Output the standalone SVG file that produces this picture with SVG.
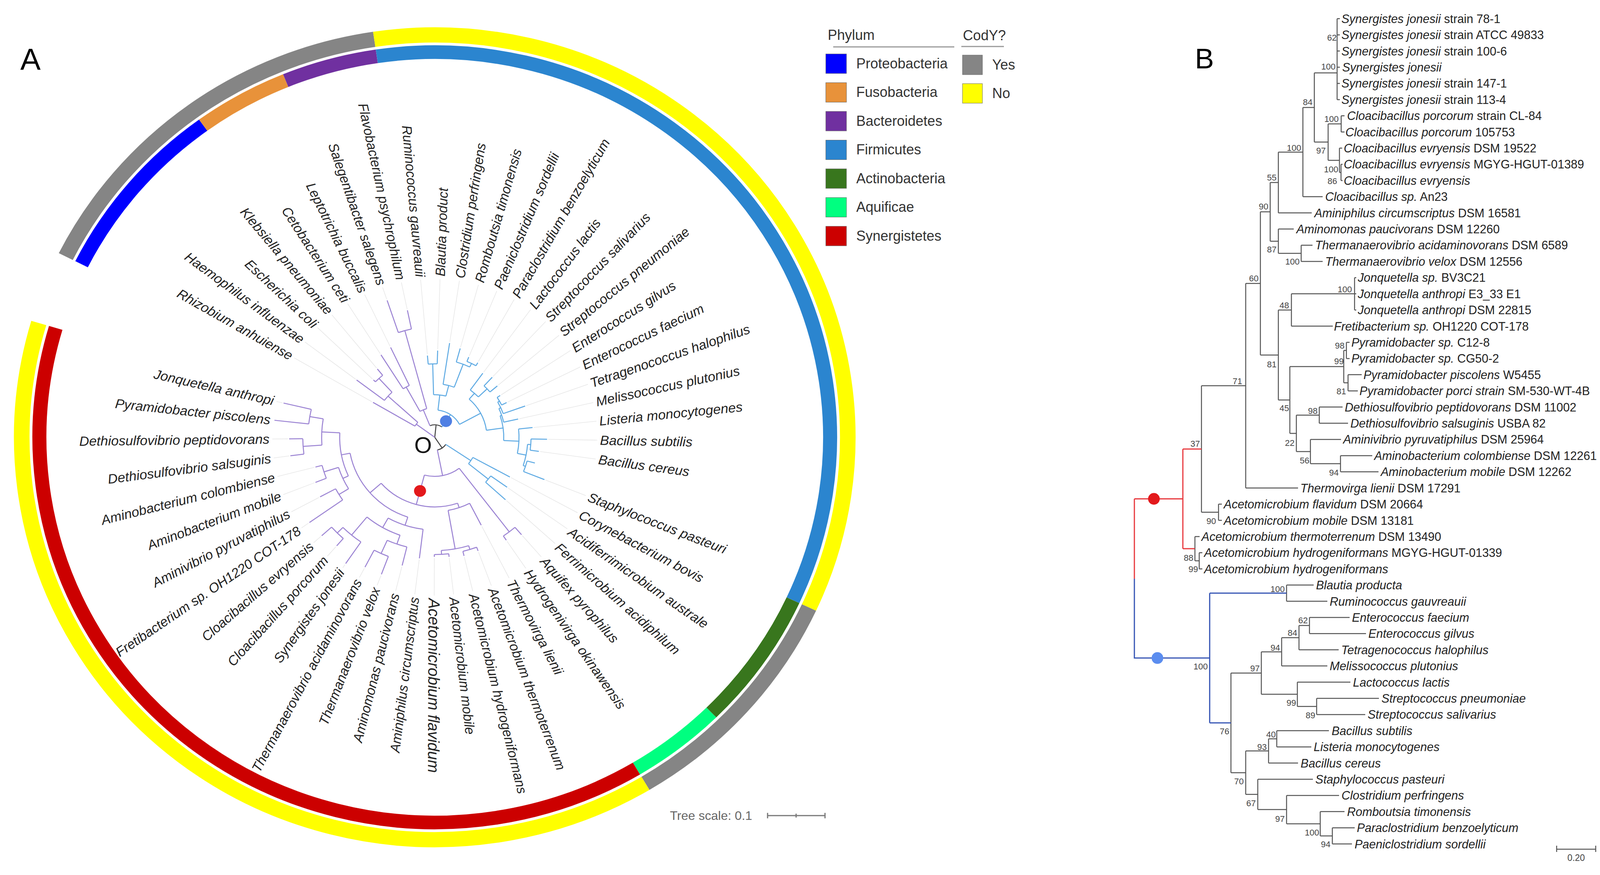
<svg xmlns="http://www.w3.org/2000/svg" width="4213" height="2239" viewBox="0 0 4213 2239">
<style>
text{font-family:"Liberation Sans",Arial,sans-serif}
.lbl{font-style:italic;font-size:34px;fill:#222}
.f{text-anchor:end}
.tr line,.tr circle{fill:none;stroke-width:2.5}
.p{stroke:#9b83d3}
.bu{stroke:#5eaae3}
.k{stroke:#444}
.ext line{stroke:#e3e3e3;stroke-width:1.3}
.ring circle{fill:none}
.lg{font-size:36px;fill:#333}
.bt{font-size:30.5px;fill:#222}
.bs{font-size:22px;fill:#444;text-anchor:end}
.it{font-style:italic}
</style>
<rect width="4213" height="2239" fill="#fff"/>
<text x="52" y="179" font-size="78" fill="#000">A</text>
<text x="3059" y="175" font-size="73" fill="#000">B</text>

<g id="panelA" transform="translate(1113 1119) scale(1.027 1)">
<g id="ring-phylum" class="ring" stroke-width="35">
<circle r="985.5" pathLength="360" stroke-dasharray="27.44 360" transform="rotate(206.7)" stroke="#0000ff"/>
<circle r="985.5" pathLength="360" stroke-dasharray="13.71 360" transform="rotate(234.14)" stroke="#e8923a"/>
<circle r="985.5" pathLength="360" stroke-dasharray="13.72 360" transform="rotate(247.85)" stroke="#7030a0"/>
<circle r="985.5" pathLength="360" stroke-dasharray="123.46 360" transform="rotate(261.57)" stroke="#2b85cf"/>
<circle r="985.5" pathLength="360" stroke-dasharray="20.58 360" transform="rotate(25.03)" stroke="#38761d"/>
<circle r="985.5" pathLength="360" stroke-dasharray="13.72 360" transform="rotate(45.61)" stroke="#00ff80"/>
<circle r="985.5" pathLength="360" stroke-dasharray="137.18 360" transform="rotate(59.33)" stroke="#cc0000"/>
</g>
<g id="ring-cody" class="ring" stroke-width="39">
<circle r="1029.5" pathLength="360" stroke-dasharray="54.87 360" transform="rotate(206.7)" stroke="#858585"/>
<circle r="1029.5" pathLength="360" stroke-dasharray="123.46 360" transform="rotate(261.57)" stroke="#ffff00"/>
<circle r="1029.5" pathLength="360" stroke-dasharray="34.3 360" transform="rotate(25.03)" stroke="#858585"/>
<circle r="1029.5" pathLength="360" stroke-dasharray="137.18 360" transform="rotate(59.33)" stroke="#ffff00"/>
</g>

<g id="connectors" class="tr">
<g class="ext">
<line x1="181" x2="405" transform="rotate(210.13)"/><line x1="247" x2="405" transform="rotate(216.99)"/><line x1="215" x2="405" transform="rotate(223.85)"/><line x1="229" x2="405" transform="rotate(230.71)"/><line x1="253" x2="405" transform="rotate(237.57)"/><line x1="258" x2="405" transform="rotate(244.43)"/><line x1="373" x2="405" transform="rotate(251.28)"/><line x1="335" x2="405" transform="rotate(258.14)"/><line x1="213" x2="405" transform="rotate(265)"/><line x1="225" x2="405" transform="rotate(271.86)"/><line x1="247" x2="405" transform="rotate(278.72)"/><line x1="239" x2="405" transform="rotate(285.58)"/><line x1="225" x2="405" transform="rotate(292.44)"/><line x1="222" x2="405" transform="rotate(299.3)"/><line x1="206" x2="405" transform="rotate(306.16)"/><line x1="213" x2="405" transform="rotate(313.02)"/><line x1="207" x2="405" transform="rotate(319.87)"/><line x1="198" x2="405" transform="rotate(326.73)"/><line x1="203" x2="405" transform="rotate(333.59)"/><line x1="242" x2="405" transform="rotate(340.45)"/><line x1="216" x2="405" transform="rotate(347.31)"/><line x1="248" x2="405" transform="rotate(354.17)"/><line x1="283" x2="405" transform="rotate(1.03)"/><line x1="265" x2="405" transform="rotate(7.89)"/><line x1="297" x2="405" transform="rotate(21.61)"/><line x1="216" x2="405" transform="rotate(28.47)"/><line x1="224" x2="405" transform="rotate(35.33)"/><line x1="241" x2="405" transform="rotate(42.19)"/><line x1="333" x2="405" transform="rotate(49.05)"/><line x1="321" x2="405" transform="rotate(55.9)"/><line x1="256" x2="405" transform="rotate(62.76)"/><line x1="313" x2="405" transform="rotate(69.62)"/><line x1="315" x2="405" transform="rotate(76.48)"/><line x1="311" x2="405" transform="rotate(83.34)"/><line x1="309" x2="405" transform="rotate(90.2)"/><line x1="315" x2="405" transform="rotate(97.06)"/><line x1="341" x2="405" transform="rotate(103.92)"/><line x1="378" x2="405" transform="rotate(110.78)"/><line x1="378" x2="405" transform="rotate(117.64)"/><line x1="395" x2="405" transform="rotate(124.5)"/><line x1="373" x2="405" transform="rotate(131.36)"/><line x1="381" x2="405" transform="rotate(138.22)"/><line x1="384" x2="405" transform="rotate(145.08)"/><line x1="327" x2="405" transform="rotate(151.93)"/><line x1="322" x2="405" transform="rotate(158.79)"/><line x1="310" x2="405" transform="rotate(165.65)"/><line x1="366" x2="405" transform="rotate(172.51)"/><line x1="366" x2="405" transform="rotate(179.37)"/><line x1="390" x2="405" transform="rotate(193.09)"/>
</g>
<g class="k">
<line x1="0" x2="32" transform="rotate(275.99)"/>
<circle r="32" pathLength="360" stroke-dasharray="56.27 360" transform="rotate(247.855)"/>
<line x1="0" x2="33" transform="rotate(56.17)"/>
<circle r="33" pathLength="360" stroke-dasharray="45.12 360" transform="rotate(33.615)"/>
</g>
<g class="p">
<line x1="0" x2="57" transform="rotate(216.13)"/>
<circle r="57" pathLength="360" stroke-dasharray="12.005 360" transform="rotate(210.13)"/>
<line x1="57" x2="178" transform="rotate(210.13)"/>
<line x1="57" x2="157" transform="rotate(222.135)"/>
<circle r="157" pathLength="360" stroke-dasharray="10.29 360" transform="rotate(216.99)"/>
<line x1="157" x2="244" transform="rotate(216.99)"/>
<line x1="157" x2="205" transform="rotate(227.28)"/>
<circle r="205" pathLength="360" stroke-dasharray="6.86 360" transform="rotate(223.85)"/>
<line x1="205" x2="212" transform="rotate(223.85)"/>
<line x1="205" x2="226" transform="rotate(230.71)"/>
<line x1="32" x2="76" transform="rotate(247.855)"/>
<circle r="76" pathLength="360" stroke-dasharray="13.71 360" transform="rotate(241)"/>
<line x1="76" x2="147" transform="rotate(241)"/>
<circle r="147" pathLength="360" stroke-dasharray="6.86 360" transform="rotate(237.57)"/>
<line x1="147" x2="250" transform="rotate(237.57)"/>
<line x1="147" x2="255" transform="rotate(244.43)"/>
<line x1="76" x2="283" transform="rotate(254.71)"/>
<circle r="283" pathLength="360" stroke-dasharray="6.86 360" transform="rotate(251.28)"/>
<line x1="283" x2="370" transform="rotate(251.28)"/>
<line x1="283" x2="332" transform="rotate(258.14)"/>
<line x1="33" x2="100" transform="rotate(78.73)"/>
<circle r="100" pathLength="360" stroke-dasharray="52.515 360" transform="rotate(52.475)"/>
<line x1="100" x2="305" transform="rotate(52.475)"/>
<circle r="305" pathLength="360" stroke-dasharray="6.85 360" transform="rotate(49.05)"/>
<line x1="305" x2="330" transform="rotate(49.05)"/>
<line x1="305" x2="318" transform="rotate(55.9)"/>
<line x1="100" x2="178" transform="rotate(104.99)"/>
<circle r="178" pathLength="360" stroke-dasharray="67.31 360" transform="rotate(71.335)"/>
<line x1="178" x2="190" transform="rotate(71.335)"/>
<circle r="190" pathLength="360" stroke-dasharray="17.15 360" transform="rotate(62.76)"/>
<line x1="190" x2="253" transform="rotate(62.76)"/>
<line x1="190" x2="290" transform="rotate(79.91)"/>
<circle r="290" pathLength="360" stroke-dasharray="13.72 360" transform="rotate(73.05)"/>
<line x1="290" x2="300" transform="rotate(73.05)"/>
<circle r="300" pathLength="360" stroke-dasharray="6.86 360" transform="rotate(69.62)"/>
<line x1="300" x2="310" transform="rotate(69.62)"/>
<line x1="300" x2="312" transform="rotate(76.48)"/>
<line x1="290" x2="300" transform="rotate(86.77)"/>
<circle r="300" pathLength="360" stroke-dasharray="6.86 360" transform="rotate(83.34)"/>
<line x1="300" x2="308" transform="rotate(83.34)"/>
<line x1="300" x2="306" transform="rotate(90.2)"/>
<line x1="178" x2="215" transform="rotate(138.645)"/>
<circle r="215" pathLength="360" stroke-dasharray="60.87 360" transform="rotate(108.21)"/>
<line x1="215" x2="237" transform="rotate(108.21)"/>
<circle r="237" pathLength="360" stroke-dasharray="22.295 360" transform="rotate(97.06)"/>
<line x1="237" x2="312" transform="rotate(97.06)"/>
<line x1="237" x2="265" transform="rotate(119.355)"/>
<circle r="265" pathLength="360" stroke-dasharray="20.58 360" transform="rotate(109.065)"/>
<line x1="265" x2="289" transform="rotate(109.065)"/>
<circle r="289" pathLength="360" stroke-dasharray="10.29 360" transform="rotate(103.92)"/>
<line x1="289" x2="338" transform="rotate(103.92)"/>
<line x1="289" x2="326" transform="rotate(114.21)"/>
<circle r="326" pathLength="360" stroke-dasharray="6.86 360" transform="rotate(110.78)"/>
<line x1="326" x2="375" transform="rotate(110.78)"/>
<line x1="326" x2="375" transform="rotate(117.64)"/>
<line x1="265" x2="325" transform="rotate(129.645)"/>
<circle r="325" pathLength="360" stroke-dasharray="10.29 360" transform="rotate(124.5)"/>
<line x1="325" x2="392" transform="rotate(124.5)"/>
<line x1="325" x2="345" transform="rotate(134.79)"/>
<circle r="345" pathLength="360" stroke-dasharray="6.86 360" transform="rotate(131.36)"/>
<line x1="345" x2="370" transform="rotate(131.36)"/>
<line x1="345" x2="378" transform="rotate(138.22)"/>
<line x1="215" x2="237" transform="rotate(169.08)"/>
<circle r="237" pathLength="360" stroke-dasharray="27.44 360" transform="rotate(155.36)"/>
<line x1="237" x2="252" transform="rotate(155.36)"/>
<circle r="252" pathLength="360" stroke-dasharray="13.715 360" transform="rotate(148.505)"/>
<line x1="252" x2="280" transform="rotate(148.505)"/>
<circle r="280" pathLength="360" stroke-dasharray="6.85 360" transform="rotate(145.08)"/>
<line x1="280" x2="381" transform="rotate(145.08)"/>
<line x1="280" x2="324" transform="rotate(151.93)"/>
<line x1="252" x2="290" transform="rotate(162.22)"/>
<circle r="290" pathLength="360" stroke-dasharray="6.86 360" transform="rotate(158.79)"/>
<line x1="290" x2="319" transform="rotate(158.79)"/>
<line x1="290" x2="307" transform="rotate(165.65)"/>
<line x1="237" x2="282" transform="rotate(182.8)"/>
<circle r="282" pathLength="360" stroke-dasharray="13.72 360" transform="rotate(175.94)"/>
<line x1="282" x2="329" transform="rotate(175.94)"/>
<circle r="329" pathLength="360" stroke-dasharray="6.86 360" transform="rotate(172.51)"/>
<line x1="329" x2="363" transform="rotate(172.51)"/>
<line x1="329" x2="363" transform="rotate(179.37)"/>
<line x1="282" x2="316" transform="rotate(189.66)"/>
<circle r="316" pathLength="360" stroke-dasharray="6.86 360" transform="rotate(186.23)"/>
<line x1="316" x2="402" transform="rotate(186.23)"/>
<line x1="316" x2="387" transform="rotate(193.09)"/>
</g>
<g class="bu">
<line x1="32" x2="70" transform="rotate(304.12)"/>
<circle r="70" pathLength="360" stroke-dasharray="55.09 360" transform="rotate(276.575)"/>
<line x1="70" x2="109" transform="rotate(276.575)"/>
<circle r="109" pathLength="360" stroke-dasharray="16.29 360" transform="rotate(268.43)"/>
<line x1="109" x2="188" transform="rotate(268.43)"/>
<circle r="188" pathLength="360" stroke-dasharray="6.86 360" transform="rotate(265)"/>
<line x1="188" x2="210" transform="rotate(265)"/>
<line x1="188" x2="222" transform="rotate(271.86)"/>
<line x1="109" x2="137" transform="rotate(284.72)"/>
<circle r="137" pathLength="360" stroke-dasharray="12.005 360" transform="rotate(278.72)"/>
<line x1="137" x2="244" transform="rotate(278.72)"/>
<line x1="137" x2="200" transform="rotate(290.725)"/>
<circle r="200" pathLength="360" stroke-dasharray="10.29 360" transform="rotate(285.58)"/>
<line x1="200" x2="236" transform="rotate(285.58)"/>
<line x1="200" x2="210" transform="rotate(295.87)"/>
<circle r="210" pathLength="360" stroke-dasharray="6.86 360" transform="rotate(292.44)"/>
<line x1="210" x2="222" transform="rotate(292.44)"/>
<line x1="210" x2="219" transform="rotate(299.3)"/>
<line x1="70" x2="130" transform="rotate(331.665)"/>
<circle r="130" pathLength="360" stroke-dasharray="40.73 360" transform="rotate(311.3)"/>
<line x1="130" x2="150" transform="rotate(311.3)"/>
<circle r="150" pathLength="360" stroke-dasharray="10.285 360" transform="rotate(306.16)"/>
<line x1="150" x2="203" transform="rotate(306.16)"/>
<line x1="150" x2="180" transform="rotate(316.445)"/>
<circle r="180" pathLength="360" stroke-dasharray="6.85 360" transform="rotate(313.02)"/>
<line x1="180" x2="210" transform="rotate(313.02)"/>
<line x1="180" x2="204" transform="rotate(319.87)"/>
<line x1="130" x2="172" transform="rotate(352.03)"/>
<circle r="172" pathLength="360" stroke-dasharray="21.435 360" transform="rotate(341.31)"/>
<line x1="172" x2="176" transform="rotate(341.31)"/>
<circle r="176" pathLength="360" stroke-dasharray="12.005 360" transform="rotate(335.305)"/>
<line x1="176" x2="213" transform="rotate(347.31)"/>
<line x1="176" x2="181" transform="rotate(335.305)"/>
<circle r="181" pathLength="360" stroke-dasharray="10.29 360" transform="rotate(330.16)"/>
<line x1="181" x2="239" transform="rotate(340.45)"/>
<line x1="181" x2="186" transform="rotate(330.16)"/>
<circle r="186" pathLength="360" stroke-dasharray="6.86 360" transform="rotate(326.73)"/>
<line x1="186" x2="195" transform="rotate(326.73)"/>
<line x1="186" x2="200" transform="rotate(333.59)"/>
<line x1="172" x2="210" transform="rotate(2.745)"/>
<circle r="210" pathLength="360" stroke-dasharray="17.15 360" transform="rotate(354.17)"/>
<line x1="210" x2="245" transform="rotate(354.17)"/>
<line x1="210" x2="232" transform="rotate(11.32)"/>
<circle r="232" pathLength="360" stroke-dasharray="13.72 360" transform="rotate(4.46)"/>
<line x1="232" x2="240" transform="rotate(4.46)"/>
<circle r="240" pathLength="360" stroke-dasharray="6.86 360" transform="rotate(1.03)"/>
<line x1="240" x2="280" transform="rotate(1.03)"/>
<line x1="240" x2="262" transform="rotate(7.89)"/>
<line x1="232" x2="238" transform="rotate(18.18)"/>
<circle r="238" pathLength="360" stroke-dasharray="6.86 360" transform="rotate(14.75)"/>
<line x1="238" x2="258" transform="rotate(14.75)"/>
<line x1="238" x2="294" transform="rotate(21.61)"/>
<line x1="33" x2="108" transform="rotate(33.615)"/>
<circle r="108" pathLength="360" stroke-dasharray="10.29 360" transform="rotate(28.47)"/>
<line x1="108" x2="213" transform="rotate(28.47)"/>
<line x1="108" x2="171" transform="rotate(38.76)"/>
<circle r="171" pathLength="360" stroke-dasharray="6.86 360" transform="rotate(35.33)"/>
<line x1="171" x2="221" transform="rotate(35.33)"/>
<line x1="171" x2="238" transform="rotate(42.19)"/>
</g>
</g>
<circle id="dot-blue" cx="50" cy="0" r="15" fill="#4f7fe3" transform="rotate(304.12)"/>
<circle id="dot-red" cx="142" cy="0" r="15" fill="#e3191c" transform="rotate(104.99)"/>

<g id="labels-A" class="lbl">
<text class="f" x="-412" dy="0.35em" transform="rotate(30.13)">Rhizobium anhuiense</text>
<text class="f" x="-412" dy="0.35em" transform="rotate(36.99)">Haemophilus influenzae</text>
<text class="f" x="-412" dy="0.35em" transform="rotate(43.85)">Escherichia coli</text>
<text class="f" x="-412" dy="0.35em" transform="rotate(50.71)">Klebsiella pneumoniae</text>
<text class="f" x="-412" dy="0.35em" transform="rotate(57.57)">Cetobacterium ceti</text>
<text class="f" x="-412" dy="0.35em" transform="rotate(64.43)">Leptotrichia buccalis</text>
<text class="f" x="-412" dy="0.35em" transform="rotate(71.28)">Salegentibacter salegens</text>
<text class="f" x="-412" dy="0.35em" transform="rotate(78.14)">Flavobacterium psychrophilum</text>
<text class="f" x="-412" dy="0.35em" transform="rotate(85)">Ruminococcus gauvreauii</text>
<text x="412" dy="0.35em" transform="rotate(271.86)">Blautia product</text>
<text x="412" dy="0.35em" transform="rotate(278.72)">Clostridium perfringens</text>
<text x="412" dy="0.35em" transform="rotate(285.58)">Romboutsia timonensis</text>
<text x="412" dy="0.35em" transform="rotate(292.44)">Paeniclostridium sordellii</text>
<text x="412" dy="0.35em" transform="rotate(299.3)">Paraclostridium benzoelyticum</text>
<text x="412" dy="0.35em" transform="rotate(306.16)">Lactococcus lactis</text>
<text x="412" dy="0.35em" transform="rotate(313.02)">Streptococcus salivarius</text>
<text x="412" dy="0.35em" transform="rotate(319.87)">Streptococcus pneumoniae</text>
<text x="412" dy="0.35em" transform="rotate(326.73)">Enterococcus gilvus</text>
<text x="412" dy="0.35em" transform="rotate(333.59)">Enterococcus faecium</text>
<text x="412" dy="0.35em" transform="rotate(340.45)">Tetragenococcus halophilus</text>
<text x="412" dy="0.35em" transform="rotate(347.31)">Melissococcus plutonius</text>
<text x="412" dy="0.35em" transform="rotate(354.17)">Listeria monocytogenes</text>
<text x="412" dy="0.35em" transform="rotate(1.03)">Bacillus subtilis</text>
<text x="412" dy="0.35em" transform="rotate(7.89)">Bacillus cereus</text>
<text x="412" dy="0.35em" transform="rotate(21.61)">Staphylococcus pasteuri</text>
<text x="412" dy="0.35em" transform="rotate(28.47)">Corynebacterium bovis</text>
<text x="412" dy="0.35em" transform="rotate(35.33)">Acidiferrimicrobium australe</text>
<text x="412" dy="0.35em" transform="rotate(42.19)">Ferrimicrobium acidiphilum</text>
<text x="412" dy="0.35em" transform="rotate(49.05)">Aquifex pyrophilus</text>
<text x="412" dy="0.35em" transform="rotate(55.9)">Hydrogenivirga okinawensis</text>
<text x="412" dy="0.35em" transform="rotate(62.76)">Thermovirga lienii</text>
<text x="412" dy="0.35em" transform="rotate(69.62)">Acetomicrobium thermoterrenum</text>
<text x="412" dy="0.35em" transform="rotate(76.48)">Acetomicrobium hydrogeniformans</text>
<text x="412" dy="0.35em" transform="rotate(83.34)">Acetomicrobium mobile</text>
<text x="412" dy="0.35em" transform="rotate(90.2)" font-size="40">Acetomicrobium flavidum</text>
<text class="f" x="-412" dy="0.35em" transform="rotate(-82.94)">Aminiphilus circumscriptus</text>
<text class="f" x="-412" dy="0.35em" transform="rotate(-76.08)">Aminomonas paucivorans</text>
<text class="f" x="-412" dy="0.35em" transform="rotate(-69.22)">Thermanaerovibrio velox</text>
<text class="f" x="-412" dy="0.35em" transform="rotate(-62.36)">Thermanaerovibrio acidaminovorans</text>
<text class="f" x="-412" dy="0.35em" transform="rotate(-55.5)">Synergistes jonesii</text>
<text class="f" x="-412" dy="0.35em" transform="rotate(-48.64)">Cloacibacillus porcorum</text>
<text class="f" x="-412" dy="0.35em" transform="rotate(-41.78)">Cloacibacillus evryensis</text>
<text class="f" x="-412" dy="0.35em" transform="rotate(-34.92)">Fretibacterium sp. OH1220 COT-178</text>
<text class="f" x="-412" dy="0.35em" transform="rotate(-28.07)">Aminivibrio pyruvatiphilus</text>
<text class="f" x="-412" dy="0.35em" transform="rotate(-21.21)">Aminobacterium mobile</text>
<text class="f" x="-412" dy="0.35em" transform="rotate(-14.35)">Aminobacterium colombiense</text>
<text class="f" x="-412" dy="0.35em" transform="rotate(-7.49)">Dethiosulfovibrio salsuginis</text>
<text class="f" x="-412" dy="0.35em" transform="rotate(-0.63)">Dethiosulfovibrio peptidovorans</text>
<text class="f" x="-412" dy="0.35em" transform="rotate(6.23)">Pyramidobacter piscolens</text>
<text class="f" x="-412" dy="0.35em" transform="rotate(13.09)">Jonquetella anthropi</text>
</g>
</g>
<text id="root-O" x="1083" y="1159" font-size="58" text-anchor="middle" fill="#111">O</text>

<g id="tree-scale-A">
<text x="1715" y="2098" font-size="32" fill="#666">Tree scale: 0.1</text>
<path d="M1965 2087H2112M1965 2080V2094M2038 2082V2092M2112 2080V2094" stroke="#777" stroke-width="3" fill="none"/>
</g>

<g id="legend">
<text x="2119" y="102" class="lg">Phylum</text>
<line x1="2133" y1="120" x2="2443" y2="120" stroke="#999" stroke-width="3"/>
<text x="2465" y="103" class="lg">CodY?</text>
<line x1="2461" y1="119" x2="2570" y2="119" stroke="#999" stroke-width="3"/>
<g stroke="#666" stroke-width="1">
<rect x="2114" y="138" width="53" height="50" fill="#0000ff"/>
<rect x="2114" y="211.5" width="53" height="50" fill="#e8923a"/>
<rect x="2114" y="285" width="53" height="50" fill="#7030a0"/>
<rect x="2114" y="358.5" width="53" height="50" fill="#2b85cf"/>
<rect x="2114" y="432" width="53" height="50" fill="#38761d"/>
<rect x="2114" y="505.5" width="53" height="50" fill="#00ff80"/>
<rect x="2114" y="579" width="53" height="50" fill="#cc0000"/>
<rect x="2464" y="141" width="51" height="50" fill="#858585"/>
<rect x="2464" y="214" width="51" height="50" fill="#ffff00"/>
</g>
<text x="2192" y="175" class="lg">Proteobacteria</text>
<text x="2192" y="248" class="lg">Fusobacteria</text>
<text x="2192" y="322" class="lg">Bacteroidetes</text>
<text x="2192" y="395" class="lg">Firmicutes</text>
<text x="2192" y="469" class="lg">Actinobacteria</text>
<text x="2192" y="542" class="lg">Aquificae</text>
<text x="2192" y="616" class="lg">Synergistetes</text>
<text x="2540" y="178" class="lg">Yes</text>
<text x="2540" y="251" class="lg">No</text>
</g>

<g id="panelB-connectors" fill="none" stroke-width="2.5">
<path stroke="#555" d="M3423 47.8V254.9M3423 47.8H3430M3423 89.2H3430M3423 130.6H3430M3423 172H3430M3423 213.4H3430M3423 254.9H3430M3364.7 186.5H3423
M3433.4 296.3V337.7M3433.4 296.3H3442M3433.4 337.7H3442M3433 420.5V461.9M3433 420.5H3437M3433 461.9H3437M3429 379.1V441.2M3429 379.1H3436M3429 441.2H3433
M3400 317V410.2M3400 317H3433.4M3400 410.2H3429M3364.7 186.5V363.6M3364.7 363.6H3400
M3335.4 275V503.3M3335.4 275H3364.7M3335.4 503.3H3386M3272.6 389.2V544.7M3272.6 389.2H3335.4M3272.6 544.7H3358
M3331 627.5V668.9M3331 627.5H3360M3331 668.9H3386M3272.6 586.1V648.2M3272.6 586.1H3312M3272.6 648.2H3331
M3251.7 467V617.2M3251.7 467H3272.6M3251.7 617.2H3272.6
M3467.7 710.4V793.2M3467.7 710.4H3472M3467.7 751.8H3472M3467.7 793.2H3472M3306 751.8V834.6M3306 751.8H3467.7M3306 834.6H3412
M3446.8 876V917.4M3446.8 876H3455M3446.8 917.4H3455M3451 958.8V1000.2M3451 958.8H3486M3451 1000.2H3476M3440 896.7V979.5M3440 896.7H3446.8M3440 979.5H3451
M3377.3 1041.6V1083M3377.3 1041.6H3437M3377.3 1083H3451M3431.7 1165.9V1207.3M3431.7 1165.9H3513M3431.7 1207.3H3529
M3354.7 1124.4V1186.6M3354.7 1124.4H3433M3354.7 1186.6H3431.7M3318.7 1062.3V1155.5M3318.7 1062.3H3377.3M3318.7 1155.5H3354.7
M3302 938.1V1108.9M3302 938.1H3440M3302 1108.9H3318.7M3272.6 793.2V1023.5M3272.6 793.2H3306M3272.6 1023.5H3302
M3226.6 542.1V908.4M3226.6 542.1H3251.7M3226.6 908.4H3272.6M3189 725.2V1248.7M3189 725.2H3226.6M3189 1248.7H3323
M3119.4 1290.1V1331.5M3119.4 1290.1H3128M3119.4 1331.5H3128M3075.8 987V1310.8M3075.8 987H3189M3075.8 1310.8H3119.4
M3070 1414.3V1455.7M3070 1414.3H3078M3070 1455.7H3078M3059 1372.9V1435M3059 1372.9H3071M3059 1435H3070
M3293.6 1497.1V1538.5M3293.6 1497.1H3363M3293.6 1538.5H3398M3352.2 1579.9V1621.3M3352.2 1579.9H3455M3352.2 1621.3H3497
M3325.4 1600.6V1662.7M3325.4 1600.6H3352.2M3325.4 1662.7H3427M3281 1631.7V1704.1M3281 1631.7H3325.4M3281 1704.1H3398
M3370.6 1787V1828.4M3370.6 1787H3530M3370.6 1828.4H3495M3321.2 1745.6V1807.7M3321.2 1745.6H3457M3321.2 1807.7H3370.6
M3229 1667.9V1776.6M3229 1667.9H3281M3229 1776.6H3321.2M3268.5 1869.8V1911.2M3268.5 1869.8H3402M3268.5 1911.2H3357
M3247.5 1890.5V1952.6M3247.5 1890.5H3268.5M3247.5 1952.6H3323M3410.8 2118.2V2159.6M3410.8 2118.2H3468M3410.8 2159.6H3461
M3379.8 2076.8V2138.9M3379.8 2076.8H3442M3379.8 2138.9H3410.8M3293.6 2035.4V2107.9M3293.6 2035.4H3428M3293.6 2107.9H3379.8
M3219.9 1994V2071.6M3219.9 1994H3361M3219.9 2071.6H3293.6M3189 1921.5V2032.8M3189 1921.5H3247.5M3189 2032.8H3219.9
M3151.2 1722.3V1977.2M3151.2 1722.3H3229M3151.2 1977.2H3189"/>
<path stroke="#e8383d" stroke-width="3" d="M2904 1276.5H3028.1M3028.1 1148.9V1404M3028.1 1148.9H3075.8M3028.1 1404H3059M2904 1276.5V1481"/>
<path stroke="#3454b4" stroke-width="3" d="M2904 1481V1683.8H3096.8M3096.8 1517.8V1849.8M3096.8 1517.8H3293.6M3096.8 1849.8H3151.2"/>
<circle cx="2954" cy="1276.5" r="15" fill="#e3191c" stroke="none"/>
<circle cx="2963" cy="1683.8" r="15" fill="#5b8def" stroke="none"/>
</g>

<g id="panelB-labels" class="bt">
<text x="3434" y="59"><tspan class="it">Synergistes jonesii</tspan>  strain 78-1</text>
<text x="3434" y="100"><tspan class="it">Synergistes jonesii</tspan> strain ATCC 49833</text>
<text x="3434" y="142"><tspan class="it">Synergistes jonesii</tspan> strain 100-6</text>
<text x="3436" y="183"><tspan class="it">Synergistes jonesii</tspan></text>
<text x="3434" y="224"><tspan class="it">Synergistes jonesii</tspan> strain 147-1</text>
<text x="3434" y="266"><tspan class="it">Synergistes jonesii</tspan> strain 113-4</text>
<text x="3448.5" y="307"><tspan class="it">Cloacibacillus porcorum</tspan> strain CL-84</text>
<text x="3444.3" y="349"><tspan class="it">Cloacibacillus porcorum</tspan> 105753</text>
<text x="3440" y="390"><tspan class="it">Cloacibacillus evryensis</tspan> DSM 19522</text>
<text x="3440" y="431"><tspan class="it">Cloacibacillus evryensis</tspan> MGYG-HGUT-01389</text>
<text x="3440" y="473"><tspan class="it">Cloacibacillus evryensis</tspan></text>
<text x="3392.4" y="514"><tspan class="it">Cloacibacillus sp.</tspan> An23</text>
<text x="3364.7" y="556"><tspan class="it">Aminiphilus circumscriptus</tspan> DSM 16581</text>
<text x="3318.7" y="597"><tspan class="it">Aminomonas paucivorans</tspan> DSM 12260</text>
<text x="3366.4" y="638"><tspan class="it">Thermanaerovibrio acidaminovorans</tspan> DSM 6589</text>
<text x="3392.4" y="680"><tspan class="it">Thermanaerovibrio velox</tspan> DSM 12556</text>
<text x="3476" y="721"><tspan class="it">Jonquetella sp.</tspan> BV3C21</text>
<text x="3476" y="763"><tspan class="it">Jonquetella anthropi</tspan> E3_33 E1</text>
<text x="3476" y="804"><tspan class="it">Jonquetella anthropi</tspan> DSM 22815</text>
<text x="3415" y="846"><tspan class="it">Fretibacterium sp.</tspan> OH1220 COT-178</text>
<text x="3459.4" y="887"><tspan class="it">Pyramidobacter sp.</tspan> C12-8</text>
<text x="3459.4" y="928"><tspan class="it">Pyramidobacter sp.</tspan> CG50-2</text>
<text x="3490.4" y="970"><tspan class="it">Pyramidobacter piscolens</tspan> W5455</text>
<text x="3480.3" y="1011"><tspan class="it">Pyramidobacter porci strain</tspan> SM-530-WT-4B</text>
<text x="3442.6" y="1053"><tspan class="it">Dethiosulfovibrio peptidovorans</tspan> DSM 11002</text>
<text x="3456.9" y="1094"><tspan class="it">Dethiosulfovibrio salsuginis</tspan> USBA 82</text>
<text x="3438.4" y="1135"><tspan class="it">Aminivibrio pyruvatiphilus</tspan> DSM 25964</text>
<text x="3518" y="1177"><tspan class="it">Aminobacterium colombiense</tspan> DSM 12261</text>
<text x="3534.7" y="1218"><tspan class="it">Aminobacterium mobile</tspan> DSM 12262</text>
<text x="3328.7" y="1260"><tspan class="it">Thermovirga lienii</tspan> DSM 17291</text>
<text x="3132.8" y="1301"><tspan class="it">Acetomicrobium flavidum</tspan> DSM 20664</text>
<text x="3132.8" y="1343"><tspan class="it">Acetomicrobium mobile</tspan> DSM 13181</text>
<text x="3075.8" y="1384"><tspan class="it">Acetomicrobium thermoterrenum</tspan> DSM 13490</text>
<text x="3082.5" y="1425"><tspan class="it">Acetomicrobium hydrogeniformans</tspan> MGYG-HGUT-01339</text>
<text x="3082.5" y="1467"><tspan class="it">Acetomicrobium hydrogeniformans</tspan></text>
<text x="3369" y="1508" class="it">Blautia producta</text>
<text x="3404" y="1550" class="it">Ruminococcus gauvreauii</text>
<text x="3461" y="1591" class="it">Enterococcus faecium</text>
<text x="3503" y="1632" class="it">Enterococcus gilvus</text>
<text x="3433.4" y="1674" class="it">Tetragenococcus halophilus</text>
<text x="3404" y="1715" class="it">Melissococcus plutonius</text>
<text x="3463.6" y="1757" class="it">Lactococcus lactis</text>
<text x="3536.4" y="1798" class="it">Streptococcus pneumoniae</text>
<text x="3501.2" y="1839" class="it">Streptococcus salivarius</text>
<text x="3409" y="1881" class="it">Bacillus subtilis</text>
<text x="3363" y="1922" class="it">Listeria monocytogenes</text>
<text x="3329.6" y="1964" class="it">Bacillus cereus</text>
<text x="3367.3" y="2005" class="it">Staphylococcus pasteuri</text>
<text x="3434.2" y="2046" class="it">Clostridium perfringens</text>
<text x="3448.5" y="2088" class="it">Romboutsia timonensis</text>
<text x="3473.6" y="2129" class="it">Paraclostridium benzoelyticum</text>
<text x="3467.7" y="2171" class="it">Paeniclostridium sordellii</text>
</g>

<g id="panelB-bootstrap" class="bs">
<text x="3422" y="104">62</text><text x="3419" y="178">100</text><text x="3360" y="269">84</text>
<text x="3427" y="312">100</text><text x="3394" y="393">97</text><text x="3426" y="441">100</text><text x="3423" y="471">86</text>
<text x="3331" y="386">100</text><text x="3268" y="462">55</text><text x="3247" y="536">90</text><text x="3268" y="646">87</text>
<text x="3327" y="677">100</text><text x="3222" y="720">60</text><text x="3461" y="748">100</text><text x="3300" y="789">48</text>
<text x="3268" y="940">81</text><text x="3442" y="892">98</text><text x="3440" y="932">99</text><text x="3446" y="1009">81</text>
<text x="3180" y="983">71</text><text x="3300" y="1052">45</text><text x="3373" y="1059">98</text><text x="3314" y="1141">22</text>
<text x="3352" y="1186">56</text><text x="3427" y="1217">94</text><text x="3072" y="1143">37</text><text x="3113" y="1341">90</text>
<text x="3055" y="1435">88</text><text x="3067" y="1464">99</text><text x="3289" y="1515">100</text><text x="3092" y="1713">100</text>
<text x="3348" y="1595">62</text><text x="3321" y="1627">84</text><text x="3277" y="1665">94</text><text x="3225" y="1718">97</text>
<text x="3318" y="1806">99</text><text x="3367" y="1838">89</text><text x="3147" y="1879">76</text><text x="3266" y="1887">40</text>
<text x="3243" y="1919">93</text><text x="3184" y="2007">70</text><text x="3215" y="2063">67</text><text x="3289" y="2103">97</text>
<text x="3377" y="2138">100</text><text x="3406" y="2168">94</text>
</g>

<g id="scale-B">
<path d="M3985 2173H4085M3985 2164V2180M4085 2164V2180" stroke="#555" stroke-width="2.5" fill="none"/>
<text x="4035" y="2203" font-size="23" fill="#444" text-anchor="middle">0.20</text>
</g>
</svg>
